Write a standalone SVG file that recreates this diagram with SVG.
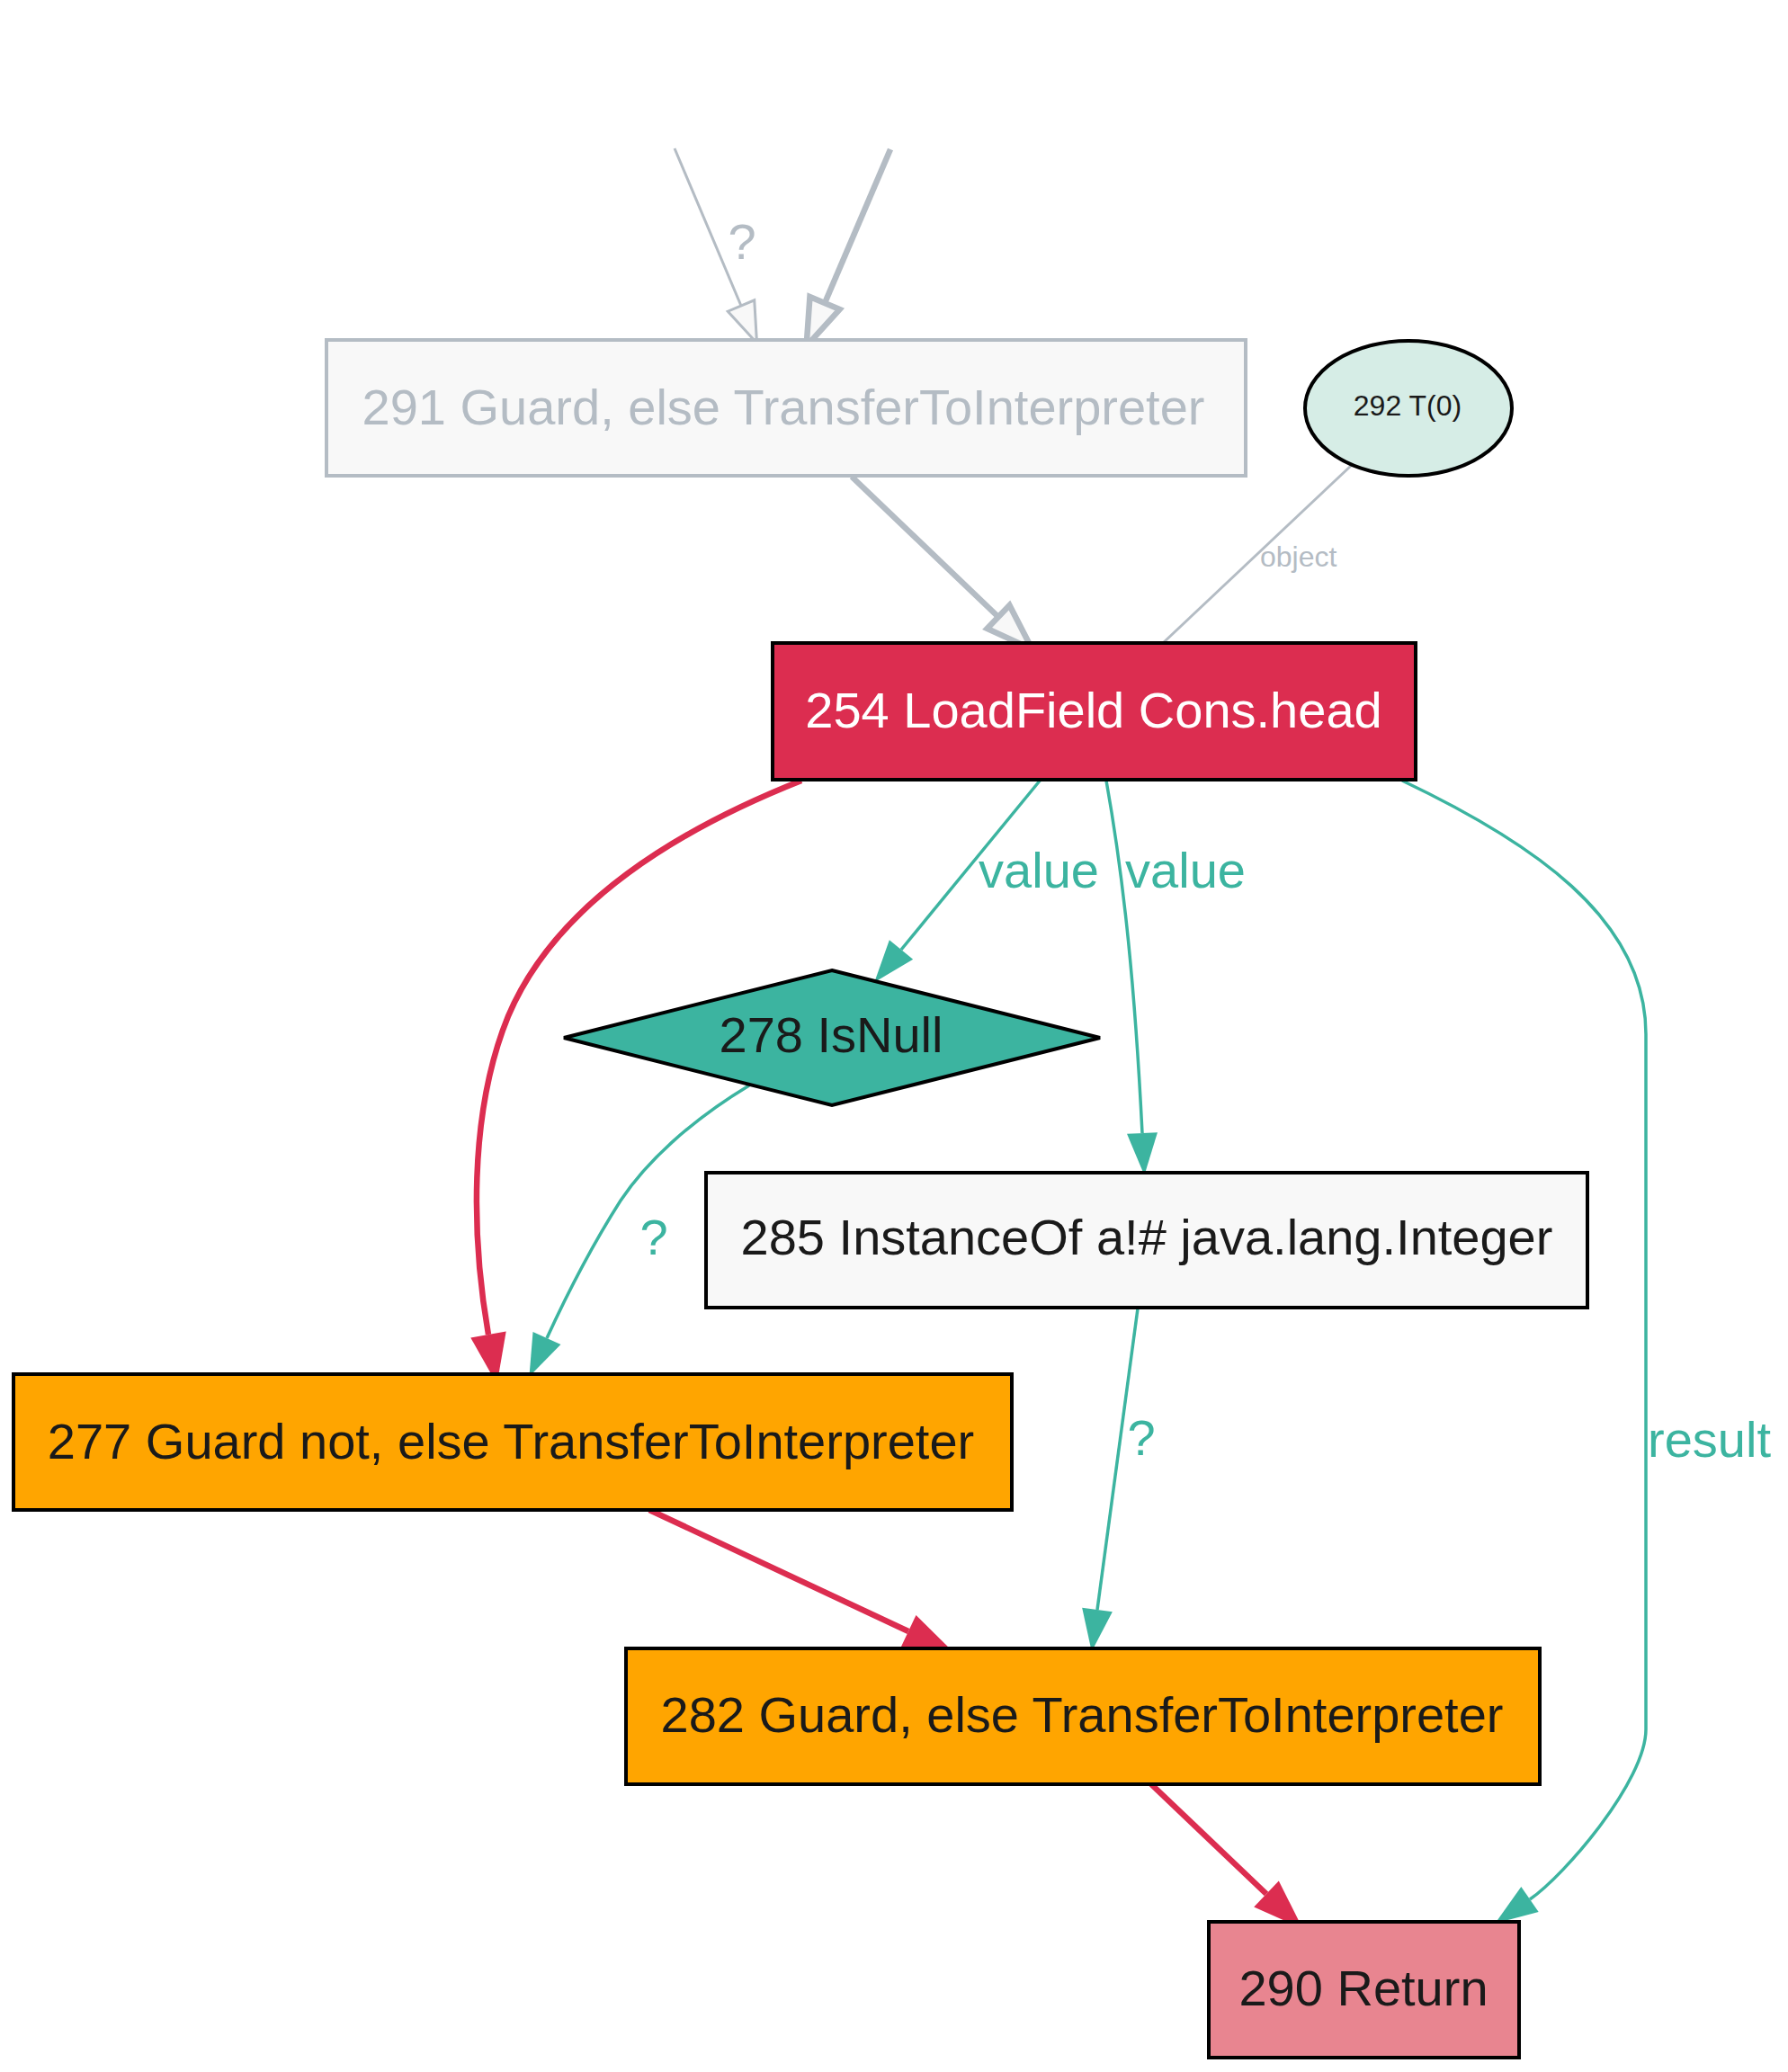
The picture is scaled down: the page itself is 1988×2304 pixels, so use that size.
<svg xmlns="http://www.w3.org/2000/svg" width="1988" height="2304" viewBox="0 0 1988 2304">
<defs>
<style>
text{font-family:"Liberation Sans",Arial,sans-serif;}
.n{font-size:56px;text-anchor:middle;fill:#1a1a1a;}
.box{stroke:#000;stroke-width:4;}
.lbl{font-size:56px;fill:#3cb4a0;}
.glbl{font-size:56px;fill:#b4bcc4;}
.teal{fill:none;stroke:#3cb4a0;stroke-width:3.5;}
.red{fill:none;stroke:#dc2d50;stroke-width:6.5;}
.gthin{fill:none;stroke:#b4bcc4;stroke-width:3;}
.gthick{fill:none;stroke:#b4bcc4;stroke-width:6.5;}
</style>
<marker id="aTeal" markerUnits="userSpaceOnUse" markerWidth="50" markerHeight="36" refX="0" refY="17" orient="auto" overflow="visible"><polygon points="0,0 47,17 0,34" fill="#3cb4a0"/></marker>
<marker id="aRed" markerUnits="userSpaceOnUse" markerWidth="60" markerHeight="42" refX="0" refY="20" orient="auto" overflow="visible"><polygon points="0,0 56,20 0,40" fill="#dc2d50"/></marker>
<marker id="aGThin" markerUnits="userSpaceOnUse" markerWidth="50" markerHeight="34" refX="0" refY="16" orient="auto" overflow="visible"><polygon points="0,0 45,16 0,32" fill="#f8f8f8" stroke="#b4bcc4" stroke-width="3"/></marker>
<marker id="aGThick" markerUnits="userSpaceOnUse" markerWidth="60" markerHeight="40" refX="0" refY="18" orient="auto" overflow="visible"><polygon points="0,0 52,18 0,36" fill="#f8f8f8" stroke="#b4bcc4" stroke-width="6.5"/></marker>
</defs>
<rect width="1988" height="2304" fill="#fff"/>
<g id="connectors">
<path class="gthin" d="M750,165 L824,340" marker-end="url(#aGThin)"/>
<text class="glbl" x="825" y="288" text-anchor="middle">?</text>
<path class="gthick" d="M990,166 L917,337" marker-end="url(#aGThick)"/>
<path class="gthick" d="M947,530 L1110,686" marker-end="url(#aGThick)"/>
<path class="gthin" d="M1503,517 L1292,716"/>
<text x="1401" y="630" font-size="32" fill="#b4bcc4">object</text>
<path class="red" d="M891,868 C760,920 620,1000 565,1130 C520,1240 525,1380 543,1484" marker-end="url(#aRed)"/>
<path class="teal" d="M1157,867 L1002,1056" marker-end="url(#aTeal)"/>
<text class="lbl" x="1155" y="987" text-anchor="middle">value</text>
<path class="teal" d="M1230,868 C1250,980 1262,1100 1270,1260" marker-end="url(#aTeal)"/>
<text class="lbl" x="1318" y="987" text-anchor="middle">value</text>
<path class="teal" d="M1559,868 C1700,935 1830,1020 1830,1150 L1830,1923 C1830,1980 1740,2085 1701,2112" marker-end="url(#aTeal)"/>
<text class="lbl" x="1832" y="1620">result</text>
<path class="teal" d="M833,1207 C770,1245 720,1290 690,1335 C655,1390 630,1440 608,1488" marker-end="url(#aTeal)"/>
<text class="lbl" x="727" y="1395" text-anchor="middle">?</text>
<path class="teal" d="M1265,1455 L1220,1790" marker-end="url(#aTeal)"/>
<text class="lbl" x="1269" y="1618" text-anchor="middle">?</text>
<path class="red" d="M722,1679 L1010,1814" marker-end="url(#aRed)"/>
<path class="red" d="M1280,1984 L1408,2106" marker-end="url(#aRed)"/>
</g>
<g id="node291">
<rect x="363" y="378" width="1022" height="151" fill="#f8f8f8" stroke="#b4bcc4" stroke-width="4"/>
<text class="n" x="871" y="472" style="fill:#b4bcc4">291 Guard, else TransferToInterpreter</text>
</g>
<g id="node292">
<ellipse cx="1566" cy="454" rx="115" ry="75" fill="#d6ede6" stroke="#000" stroke-width="4"/>
<text x="1565" y="462" font-size="32" text-anchor="middle" fill="#1a1a1a">292 T(0)</text>
</g>
<g id="node254">
<rect class="box" x="859" y="715" width="715" height="152" fill="#dc2d50"/>
<text class="n" x="1216" y="809" style="fill:#ffffff">254 LoadField Cons.head</text>
</g>
<g id="node278">
<polygon class="box" points="925,1079 1223,1154 925,1229 627,1154" fill="#3cb4a0"/>
<text class="n" x="924" y="1170">278 IsNull</text>
</g>
<g id="node285">
<rect class="box" x="785" y="1304" width="980" height="150" fill="#f8f8f8"/>
<text class="n" x="1275" y="1395">285 InstanceOf a!# java.lang.Integer</text>
</g>
<g id="node277">
<rect class="box" x="15" y="1528" width="1110" height="151" fill="#ffa500"/>
<text class="n" x="568" y="1622">277 Guard not, else TransferToInterpreter</text>
</g>
<g id="node282">
<rect class="box" x="696" y="1833" width="1016" height="151" fill="#ffa500"/>
<text class="n" x="1203" y="1926">282 Guard, else TransferToInterpreter</text>
</g>
<g id="node290">
<rect class="box" x="1344" y="2137" width="345" height="151" fill="#e88590"/>
<text class="n" x="1516" y="2230">290 Return</text>
</g>
</svg>
